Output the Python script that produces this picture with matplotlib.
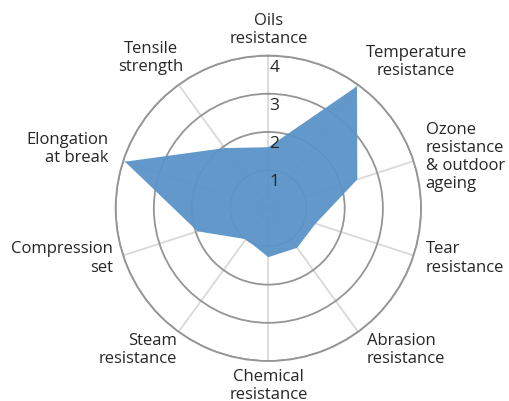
import numpy as np
import matplotlib
matplotlib.use("Agg")
import matplotlib.pyplot as plt

# property scores, clockwise from the top
categories = ["Oils\nresistance", "Temperature\nresistance",
              "Ozone\nresistance\n& outdoor\nageing", "Tear\nresistance",
              "Abrasion\nresistance", "Chemical\nresistance",
              "Steam\nresistance", "Compression\nset",
              "Elongation\nat break", "Tensile\nstrength"]
values = [1.6, 3.95, 2.45, 1.3, 1.28, 1.28, 1.0, 1.95, 3.95, 1.95]
ring_ticks = [1, 2, 3, 4]

# where each category label sits relative to the outer ring (pixels)
label_layout = [
    (0, 27, "center"), (58, 24, "center"), (12, 5, "left"),
    (12, -2, "left"), (9, -17, "left"), (0, -24, "center"),
    (-2, -17, "right"), (-10, -2, "right"), (-15, 13, "right"),
    (-28, 28, "center"),
]

plt.rcParams["font.family"] = ["Open Sans", "DejaVu Sans"]

fig = plt.figure(figsize=(5.1, 4.02), dpi=100)
ax = fig.add_axes([0.2267, 0.0995, 0.599, 0.7597], projection="polar")
ax.set_theta_zero_location("N")
ax.set_theta_direction(-1)

n = len(categories)
angles = np.linspace(0, 2 * np.pi, n, endpoint=False)

ax.set_axisbelow(True)
ax.fill(np.append(angles, angles[0]), values + values[:1],
        color="#5a93c8", alpha=0.95, lw=0, zorder=2)

ax.set_ylim(0, 4)
ax.set_yticks(ring_ticks)
ax.set_yticklabels([])
ax.set_xticks(angles)
ax.set_xticklabels([])
ax.tick_params(length=0)
ax.xaxis.grid(True, color="#d9d9d9", lw=1.3)
ax.yaxis.grid(True, color="#959595", lw=1.3)
ax.spines["polar"].set_color("#959595")
ax.spines["polar"].set_linewidth(1.3)

for a, name, (dx, dy, ha) in zip(angles, categories, label_layout):
    ax.annotate(name, xy=(a, 4), xytext=(dx, dy), textcoords="offset pixels",
                ha=ha, va="center", fontsize=12, color="#262626",
                annotation_clip=False, linespacing=1.17)

for k in ring_ticks:
    ax.annotate(str(k), xy=(0, k), xytext=(6, -11), textcoords="offset pixels",
                ha="center", va="center", fontsize=12.5, color="#262626",
                zorder=3)

fig.savefig("out.png", dpi=100)
